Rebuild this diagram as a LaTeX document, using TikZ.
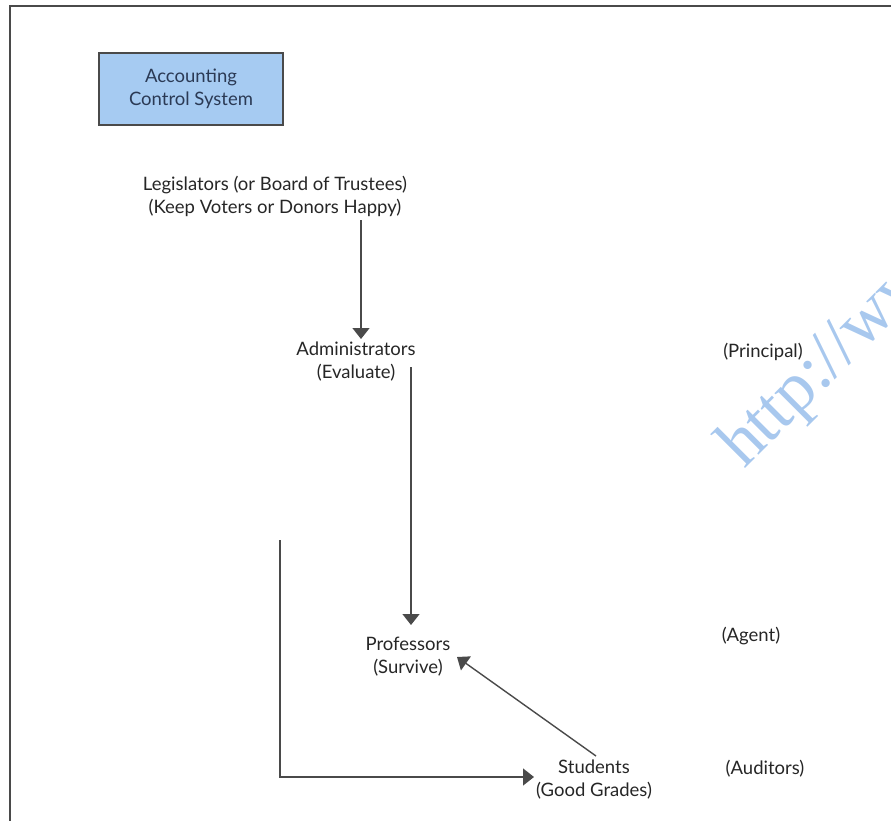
\documentclass[tikz,border=0pt]{standalone}
\usepackage{fontspec}
\setmainfont{Lato}
\newfontfamily\wmfont{Liberation Serif}
\usetikzlibrary{arrows.meta}
\definecolor{linegray}{HTML}{4A4A4A}
\definecolor{txtgray}{HTML}{262626}
\definecolor{boxblue}{HTML}{A6CBF2}
\definecolor{boxtext}{HTML}{2B3A55}
\definecolor{wmblue}{HTML}{A8C8EE}
\tikzset{
  lbl/.style={font=\fontsize{18.5}{23}\selectfont, text=txtgray, align=center, inner sep=0pt},
  side/.style={font=\fontsize{18.5}{23}\selectfont, text=txtgray, inner sep=0pt},
  conn/.style={draw=linegray, line width=1.4pt},
  arr/.style={conn, -{Triangle[width=17pt,length=11pt]}},
  ctlbox/.style={draw=linegray, line width=1.2pt, fill=boxblue, minimum width=184pt, minimum height=72pt, align=center, text=boxtext, font=\fontsize{18.5}{23}\selectfont},
  wmark/.style={text=wmblue, rotate=45, anchor=base west, inner sep=0pt, font=\wmfont\fontsize{70}{70}\selectfont}
}
\begin{document}
\begin{tikzpicture}[x=1pt,y=-1pt]
\useasboundingbox (0,0) rectangle (891,821);
\begin{scope}
\clip (0,0) rectangle (891,821);
\node[wmark] (wm) at (744,470) {http://ww};
\end{scope}
% frame
\coordinate (fbl) at (10,821);
\coordinate (ftl) at (10,6);
\coordinate (ftr) at (891,6);
\draw[draw=linegray, line width=1.5pt] (fbl) -- (ftl) -- (ftr);
% box
\node[ctlbox] (acs) at (191,89) {Accounting\\Control System};
% nodes
\node[lbl] (leg) at (275,196) {Legislators (or Board of Trustees)\\(Keep Voters or Donors Happy)};
\node[lbl] (adm) at (356,362) {Administrators\\(Evaluate)};
\node[lbl] (prof) at (408,657) {Professors\\(Survive)};
\node[lbl] (stu) at (594,780) {Students\\(Good Grades)};
\node[side] (prin) at (763,352) {(Principal)};
\node[side] (agent) at (751,636) {(Agent)};
\node[side] (aud) at (765,769) {(Auditors)};
% connectors
\coordinate (a1s) at (361,220);
\coordinate (a1e) at (361,339);
\draw[arr] (a1s) -- (a1e);
\coordinate (a2s) at (411,367);
\coordinate (a2e) at (411,625);
\draw[arr] (a2s) -- (a2e);
\coordinate (a3s) at (596,756);
\coordinate (a3e) at (457,657);
\draw[arr] (a3s) -- (a3e);
\coordinate (ls) at (280,540);
\coordinate (lc) at (280,777);
\coordinate (le) at (534,777);
\draw[arr] (ls) -- (lc) -- (le);
\end{tikzpicture}
\end{document}
